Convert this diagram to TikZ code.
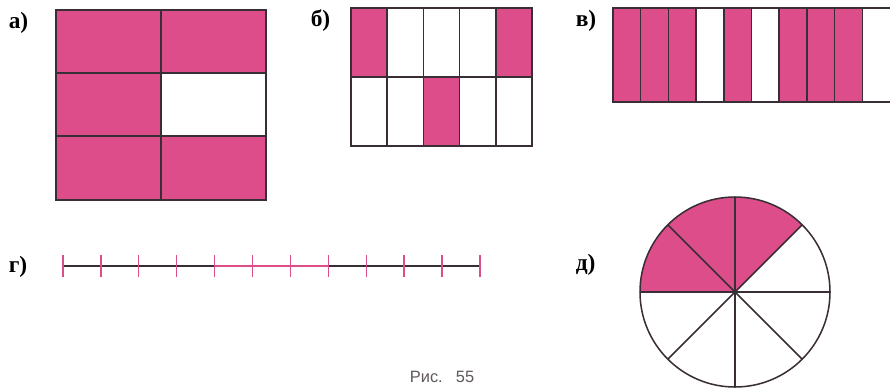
\documentclass[tikz,border=0pt]{standalone}
\usepackage{fontspec}
\setmainfont{Liberation Serif}
\newfontfamily\capfont{Liberation Sans}
\usetikzlibrary{positioning}
\definecolor{pinkfill}{HTML}{DC4D8A}
\definecolor{edge}{HTML}{3A2E36}
\begin{document}
\begin{tikzpicture}[x=0.03cm,y=-0.03cm,line width=1.3pt,
  lbl/.style={anchor=west,inner sep=0pt,font=\fontsize{20}{24}\selectfont\bfseries},
  cellline/.style={draw=edge,line cap=rect}]
\useasboundingbox (0,0) rectangle (890,388);
% labels
\node[lbl] (la) at (8,23) {а)};
\node[lbl] (lb) at (310,21) {б)};
\node[lbl] (lv) at (575,21) {в)};
\node[lbl] (lg) at (8,267) {г)};
\node[lbl] (ld) at (575,265) {д)};
% a) 2x3
\fill[pinkfill] (56,10) rectangle (266,200);
\fill[white] (161,73) rectangle (266,136);
\draw[cellline] (56,10) rectangle (266,200);
\draw[cellline] (161,10) -- (161,200);
\foreach \y in {73,136} \draw[cellline] (56,\y) -- (266,\y);
% b) 5x2
\fill[pinkfill] (351,8) rectangle (387.2,77);
\fill[pinkfill] (495.8,8) rectangle (532,77);
\fill[pinkfill] (423.4,77) rectangle (459.6,146);
\draw[cellline] (351,8) rectangle (532,146);
\draw[cellline] (351,77) -- (532,77);
\foreach \i in {1,...,4} \draw[cellline] ({351+\i*36.2},8) -- ({351+\i*36.2},146);
% v) strip of columns
\begin{scope}
\clip (600,0) rectangle (890,120);
\foreach \i in {0,1,2,4,6,7,8} \fill[pinkfill] ({613+\i*27.7},8) rectangle ({613+(\i+1)*27.7},102);
\draw[cellline] (613,8) rectangle (891,102);
\foreach \i in {1,...,9} \draw[cellline] ({613+\i*27.7},8) -- ({613+\i*27.7},102);
\end{scope}
% g) number line
\draw[edge,line width=1.6pt] (63,266) -- (480,266);
\draw[pinkfill,line width=1.6pt] ({63+4*37.9},266) -- ({63+7*37.9},266);
\foreach \i in {0,...,11} \draw[pinkfill,line width=1.1pt] ({63+\i*37.9},255) -- ({63+\i*37.9},277);
% d) circle
\coordinate (ctr) at (735,292);
\fill[pinkfill] (ctr) -- ++(-45:95) arc[start angle=-45,end angle=-180,radius=95] -- cycle;
\draw[edge] (ctr) circle[radius=95];
\foreach \a in {0,45,...,315} \draw[edge] (ctr) -- ++(\a:95);
% caption
\node[font=\capfont\fontsize{14}{16}\selectfont,text=edge!80,inner sep=0pt] (cap) at (442,377) {Рис.\hspace{0.8em}55};
\end{tikzpicture}
\end{document}
